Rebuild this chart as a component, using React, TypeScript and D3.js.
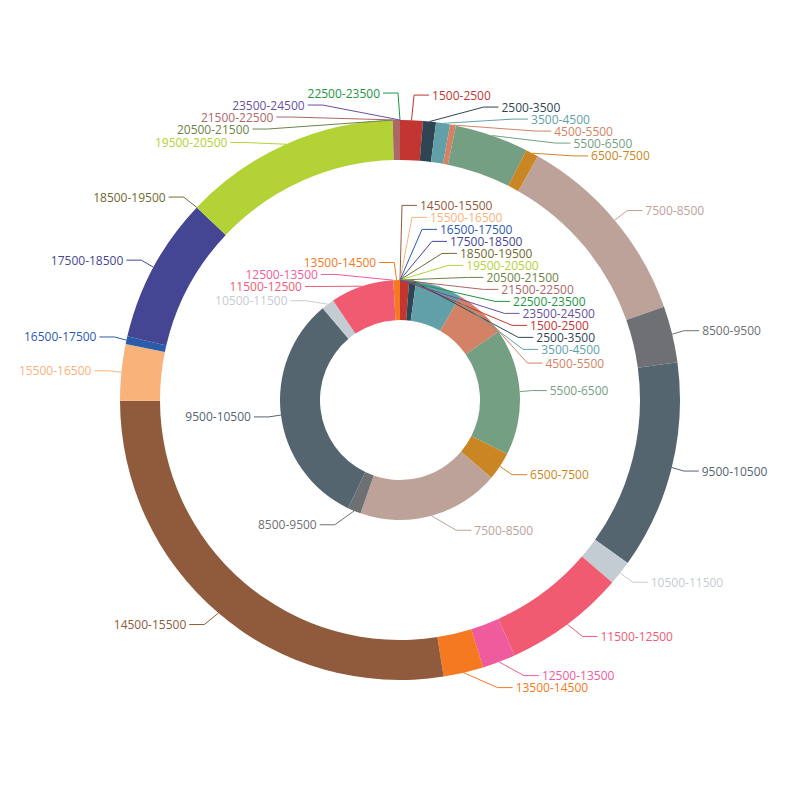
import React from "react";
import * as d3 from "d3";

// salary bands, shared by both rings
const categories = [
  "1500-2500", "2500-3500", "3500-4500", "4500-5500", "5500-6500", "6500-7500",
  "7500-8500", "8500-9500", "9500-10500", "10500-11500", "11500-12500", "12500-13500",
  "13500-14500", "14500-15500", "15500-16500", "16500-17500", "17500-18500", "18500-19500",
  "19500-20500", "20500-21500", "21500-22500", "22500-23500", "23500-24500",
];

const colors = [
  "#c23531", "#2f4554", "#61a0a8", "#d48265", "#749f83", "#ca8622",
  "#bda29a", "#6e7074", "#546570", "#c4ccd3", "#f05b72", "#ef5b9c",
  "#f47920", "#905a3d", "#fab27b", "#2a5caa", "#444693", "#726930",
  "#b2d235", "#6d8346", "#ac6767", "#1d953f", "#6950a1",
];

// outer ring
const outerValues = [47, 27, 29, 12, 153, 27, 410, 117, 433, 51, 251, 69, 83, 987, 117, 16, 303, 0, 450, 0, 15, 0, 0];
// inner ring
const innerValues = [44, 33, 224, 251, 616, 136, 688, 65, 1142, 62, 307, 0, 32, 0, 0, 0, 0, 0, 0, 0, 0, 0, 0];

const W = 800;
const H = 800;
const cx = 400;
const cy = 400;
const LEN = 15;
const LEN2 = 15;
const LABEL_H = 12;

type Label = {
  i: number;
  x: number;
  y: number;
  height: number;
  left: boolean;
  line: [number, number][];
};

// echarts-like outside label placement
function layoutLabels(arcs: d3.PieArcDatum<number>[], r: number, tieSide: number): Label[] {
  const labels: Label[] = arcs.map((a, i) => {
    const mid = (a.startAngle + a.endAngle) / 2;
    let dx = Math.sin(mid);
    const dy = -Math.cos(mid);
    if (Math.abs(dx) < 1e-6) dx = tieSide * 1e-9;
    const x1 = cx + r * dx, y1 = cy + r * dy;
    const x2 = x1 + dx * LEN, y2 = y1 + dy * LEN;
    const x3 = x2 + (dx < 0 ? -1 : 1) * LEN2;
    return {
      i,
      x: x3 + (dx < 0 ? -5 : 5),
      y: y2,
      height: LABEL_H,
      left: dx < 0,
      line: [[x1, y1], [x2, y2], [x3, y2]],
    };
  });

  const adjust = (list: Label[], dir: number) => {
    list.sort((a, b) => a.y - b.y);
    const shiftUp = (end: number, delta: number) => {
      for (let j = end; j >= 0; j--) {
        if (list[j].y - delta < 0) break;
        list[j].y -= delta;
        if (j > 0 && list[j].y > list[j - 1].y + list[j - 1].height) break;
      }
    };
    const shiftDown = (start: number, end: number, delta: number) => {
      for (let j = start; j < end; j++) {
        if (list[j].y + delta > H) break;
        list[j].y += delta;
        if (j > start && j + 1 < end && list[j + 1].y > list[j].y + list[j].height) {
          shiftUp(j, delta / 2);
          return;
        }
      }
      shiftUp(end - 1, delta / 2);
    };
    const changeX = (sub: Label[], isDown: boolean) => {
      let lastDeltaX = isDown ? Number.MAX_VALUE : 0;
      sub.forEach((l) => {
        const deltaY = Math.abs(l.y - cy);
        let deltaX = deltaY < r + LEN
          ? Math.sqrt((r + LEN + LEN2) ** 2 - deltaY * deltaY)
          : Math.abs(l.x - cx);
        if (isDown && deltaX >= lastDeltaX) deltaX = lastDeltaX - 10;
        if (!isDown && deltaX <= lastDeltaX) deltaX = lastDeltaX + 10;
        l.x = cx + deltaX * dir;
        lastDeltaX = deltaX;
      });
    };

    let lastY = 0;
    for (let i = 0; i < list.length; i++) {
      const delta = list[i].y - lastY;
      if (delta < 0) shiftDown(i, list.length, -delta);
      lastY = list[i].y + list[i].height;
    }
    if (H - lastY < 0) shiftUp(list.length - 1, lastY - H);
    changeX(list.filter((l) => l.y < cy), false);
    changeX(list.filter((l) => l.y >= cy), true);
  };

  adjust(labels.filter((l) => l.left), -1);
  adjust(labels.filter((l) => !l.left), 1);

  labels.forEach((l) => {
    const dist = l.line[1][0] - l.line[2][0];
    l.line[2][0] = l.left ? l.x + 3 : l.x - 3;
    l.line[1][1] = l.line[2][1] = l.y;
    l.line[1][0] = l.line[2][0] + dist;
  });
  return labels;
}

const pie = d3.pie<number>().value((d) => d).sort(null);

const Ring = ({ values, r0, r, tieSide }: { values: number[]; r0: number; r: number; tieSide: number }) => {
  const arcs = pie(values);
  const arc = d3.arc<d3.PieArcDatum<number>>().innerRadius(r0).outerRadius(r);
  const labels = layoutLabels(arcs, r, tieSide);
  const line = d3.line();
  return (
    <g>
      {arcs.map((a, i) => (
        <path key={i} d={arc(a) || ""} transform={`translate(${cx},${cy})`} fill={colors[i]} />
      ))}
      {labels.map((l) => (
        <g key={l.i}>
          <path d={line(l.line) || ""} fill="none" stroke={colors[l.i]} strokeWidth={1} />
          <text
            x={l.x}
            y={l.y}
            fill={colors[l.i]}
            textAnchor={l.left ? "end" : "start"}
            dominantBaseline="central"
            fontSize={12}
            fontFamily="'Open Sans', sans-serif"
          >
            {categories[l.i]}
          </text>
        </g>
      ))}
    </g>
  );
};

export default function App() {
  return (
    <svg width={W} height={H} style={{ position: "absolute", left: 0, top: 0, background: "#fff" }}>
      <Ring values={outerValues} r0={240} r={280} tieSide={-1} />
      <Ring values={innerValues} r0={80} r={120} tieSide={1} />
    </svg>
  );
}
